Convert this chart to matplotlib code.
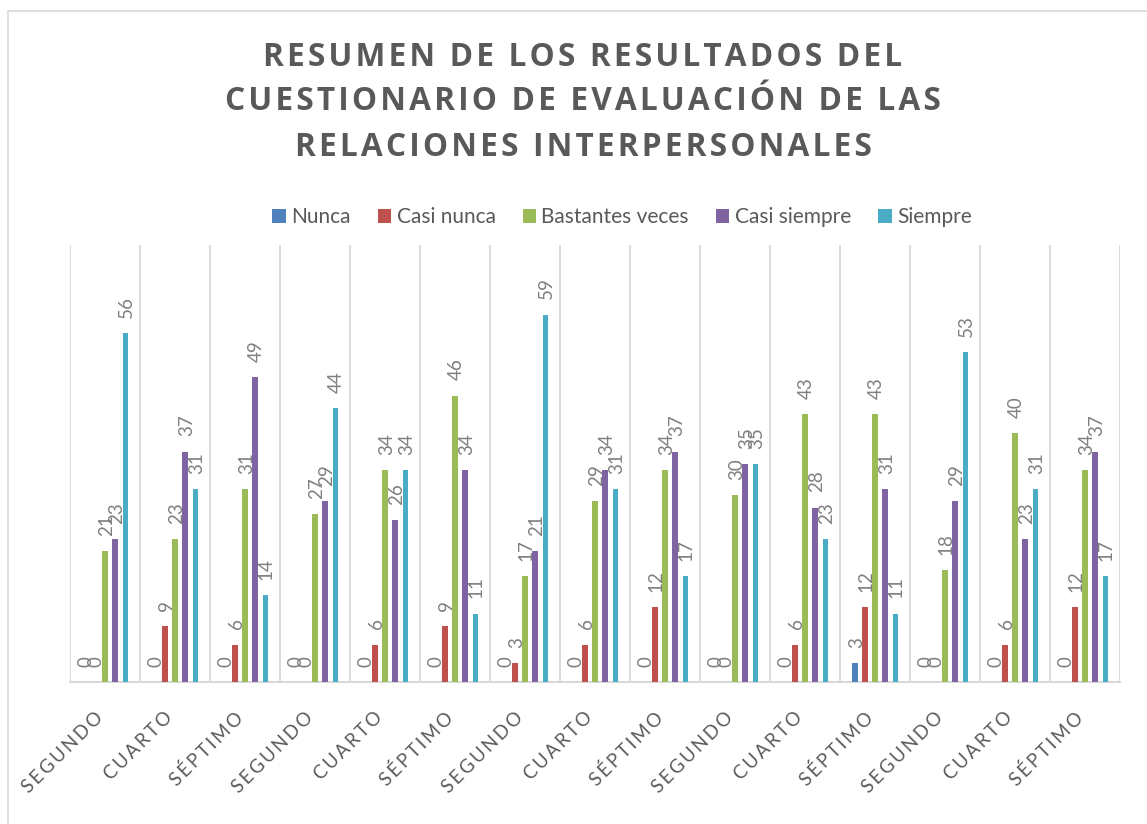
import matplotlib.pyplot as plt
import numpy as np
from matplotlib.patches import Rectangle
from matplotlib.transforms import ScaledTranslation

# datos
grupos = ['SEGUNDO', 'CUARTO', 'SÉPTIMO'] * 5
series = ['Nunca', 'Casi nunca', 'Bastantes veces', 'Casi siempre', 'Siempre']
nunca = [0, 0, 0, 0, 0, 0, 0, 0, 0, 0, 0, 3, 0, 0, 0]
casi_nunca = [0, 9, 6, 0, 6, 9, 3, 6, 12, 0, 6, 12, 0, 6, 12]
bastantes = [21, 23, 31, 27, 34, 46, 17, 29, 34, 30, 43, 43, 18, 40, 34]
casi_siempre = [23, 37, 49, 29, 26, 34, 21, 34, 37, 35, 28, 31, 29, 23, 37]
siempre = [56, 31, 14, 44, 34, 11, 59, 31, 17, 35, 23, 11, 53, 31, 17]
colores = ['#4F81BD', '#C0504D', '#9BBB59', '#8064A2', '#4BACC6']

titulo = ['RESUMEN DE LOS RESULTADOS DEL',
          'CUESTIONARIO DE EVALUACIÓN DE LAS',
          'RELACIONES INTERPERSONALES']

def espaciar(s, sep='\u200a'):
    # simula el espaciado entre letras de Excel
    return sep.join(s)

plt.rcParams['font.family'] = ['Lato', 'DejaVu Sans']

fig = plt.figure(figsize=(11.47, 8.24), dpi=100)
fig.patches.append(Rectangle((8 / 1147, -0.1), 1.2, 1.1 - 11 / 824, transform=fig.transFigure,
                             fill=False, edgecolor='#d9d9d9', linewidth=1.2))
ax = fig.add_axes([70 / 1147, 1 - 682 / 824, 1050 / 1147, 437 / 824])

valores = [nunca, casi_nunca, bastantes, casi_siempre, siempre]
x = np.arange(len(grupos)) + 0.5
paso = 0.143
ancho = 0.072
for k, (nombre, vals) in enumerate(zip(series, valores)):
    pos = x + (k - 2) * paso
    ax.bar(pos, vals, width=ancho, color=colores[k], label=nombre, zorder=3)
    for px, v in zip(pos, vals):
        ax.annotate(str(v), (px, v), xytext=(1, 11), textcoords='offset points',
                    rotation=90, ha='center', va='bottom', fontsize=13.5, color='#808080')

ax.set_xlim(0, 15)
ax.set_ylim(0, 70.2)
for b in range(16):
    ax.axvline(b, color='#d9d9d9', linewidth=1.3, zorder=1)
for s in ['top', 'right', 'left']:
    ax.spines[s].set_visible(False)
ax.spines['bottom'].set_color('#d9d9d9')
ax.spines['bottom'].set_linewidth(1.5)
ax.set_yticks([])
ax.set_xticks(x)
ax.set_xticklabels([espaciar(g, '\u2009') for g in grupos], rotation=45, ha='right',
                   rotation_mode='anchor', fontsize=13.5, color='#595959')
ax.tick_params(axis='x', length=0, pad=19)
desplaza = ScaledTranslation(-11 / 100, 0, fig.dpi_scale_trans)
for t in ax.get_xticklabels():
    t.set_transform(t.get_transform() + desplaza)

for i, linea in enumerate(titulo):
    fig.text(583 / 1147, 1 - (57 + 45 * i) / 824, espaciar(linea), ha='center', va='center',
             fontsize=22.8, fontweight='bold', color='#595959',
             family=['Open Sans', 'DejaVu Sans'])

fig.legend(loc='center', bbox_to_anchor=(622 / 1147, 1 - 217 / 824), ncol=5, frameon=False,
           fontsize=15, labelcolor='#595959', handlelength=0.65, handleheight=0.65,
           handletextpad=0.25, columnspacing=1.3)

fig.savefig('out.png', dpi=100)
